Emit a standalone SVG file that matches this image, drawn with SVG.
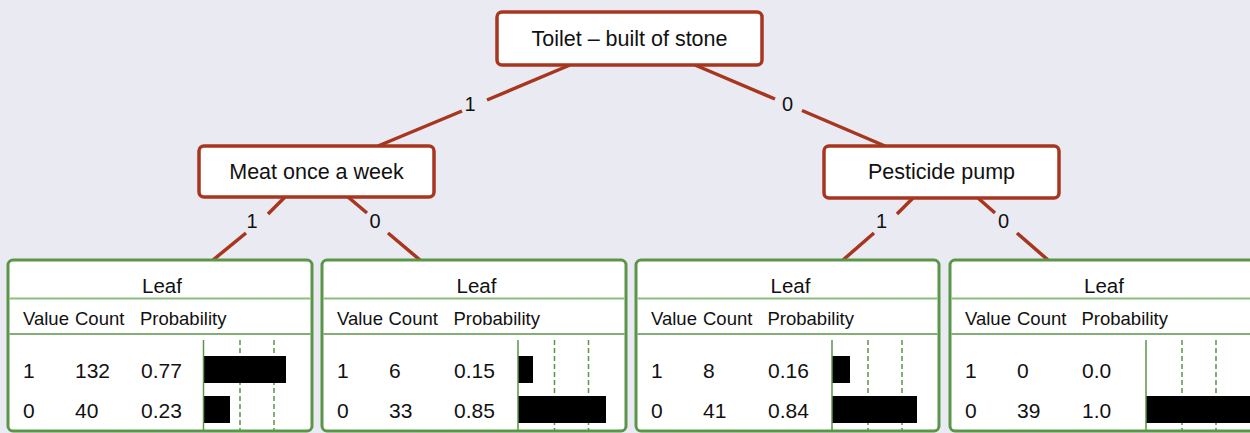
<svg xmlns="http://www.w3.org/2000/svg" width="1250" height="433" viewBox="0 0 1250 433">
<style>
text{font-family:"Liberation Sans",Arial,sans-serif;fill:#111}
.node{fill:#fff;stroke:#a8361f;stroke-width:3.5}
.nt{font-size:21.5px;text-anchor:middle}
.edge{fill:none;stroke:#a8361f;stroke-width:3.5}
.el{font-size:20px;text-anchor:middle}
.leaf{fill:#fff;stroke:#5a9548;stroke-width:3}
.sep1{stroke:#8dbd7e;stroke-width:2}
.sep2{stroke:#5a9548;stroke-width:1.5}
.axis{stroke:#5a9548;stroke-width:1.5}
.grid{stroke:#5a9548;stroke-width:1.5;stroke-dasharray:5 3}
.lt{font-size:20.5px;text-anchor:middle}
.hd{font-size:18.5px}
.rv{font-size:21px}
.bar{fill:#000}
</style>
<rect width="1250" height="433" fill="#eaeaf2"/>
<g id="connectors">
<path class="edge" d="M570 65 L487 100 M462 111 L378 146"/>
<text class="el" x="470" y="111">1</text>
<path class="edge" d="M695 65 L775 99 M802 110.5 L885 146"/>
<text class="el" x="787.5" y="111">0</text>
<path class="edge" d="M285 197 L268 214 M246 233 L213 260"/>
<text class="el" x="252" y="228">1</text>
<path class="edge" d="M348 197 L367 213 M388 233 L420 260"/>
<text class="el" x="375" y="228">0</text>
<path class="edge" d="M913 198 L897 214 M874 233 L843 260"/>
<text class="el" x="881.5" y="228">1</text>
<path class="edge" d="M978 198 L995 213 M1017 233 L1048 260"/>
<text class="el" x="1003.5" y="228">0</text>
</g>
<g id="root">
<rect class="node" x="497" y="12" width="265" height="53" rx="5"/>
<text class="nt" x="629.5" y="45.5">Toilet – built of stone</text>
</g>
<g id="meat">
<rect class="node" x="199" y="146" width="235" height="51" rx="5"/>
<text class="nt" x="316.5" y="178.5">Meat once a week</text>
</g>
<g id="pesticide">
<rect class="node" x="824" y="146" width="235" height="52" rx="5"/>
<text class="nt" x="941.5" y="178.5">Pesticide pump</text>
</g>
<g id="leaf1">
<rect class="leaf" x="8" y="260" width="304" height="171" rx="5"/>
<line class="sep1" x1="9.5" y1="298.5" x2="310.5" y2="298.5"/>
<line class="sep2" x1="9.5" y1="334" x2="310.5" y2="334"/>
<text class="lt" x="162" y="293">Leaf</text>
<text class="hd" x="23" y="325">Value</text><text class="hd" x="75" y="325">Count</text><text class="hd" x="140" y="325">Probability</text>
<text class="rv" x="23" y="378">1</text><text class="rv" x="75" y="378">132</text><text class="rv" x="141" y="378">0.77</text>
<text class="rv" x="23" y="418">0</text><text class="rv" x="75" y="418">40</text><text class="rv" x="141" y="418">0.23</text>
<line class="grid" x1="240" y1="340" x2="240" y2="430"/>
<line class="grid" x1="274" y1="340" x2="274" y2="430"/>
<rect class="bar" x="204" y="356" width="82" height="27"/>
<rect class="bar" x="204" y="396" width="26" height="27"/>
<line class="axis" x1="203.5" y1="340" x2="203.5" y2="430"/>
</g>
<g id="leaf2">
<rect class="leaf" x="322" y="260" width="304" height="171" rx="5"/>
<line class="sep1" x1="323.5" y1="298.5" x2="624.5" y2="298.5"/>
<line class="sep2" x1="323.5" y1="334" x2="624.5" y2="334"/>
<text class="lt" x="476.5" y="293">Leaf</text>
<text class="hd" x="337" y="325">Value</text><text class="hd" x="388.5" y="325">Count</text><text class="hd" x="453.5" y="325">Probability</text>
<text class="rv" x="337" y="378">1</text><text class="rv" x="389" y="378">6</text><text class="rv" x="454" y="378">0.15</text>
<text class="rv" x="337" y="418">0</text><text class="rv" x="389" y="418">33</text><text class="rv" x="454" y="418">0.85</text>
<line class="grid" x1="554.5" y1="340" x2="554.5" y2="430"/>
<line class="grid" x1="588.5" y1="340" x2="588.5" y2="430"/>
<rect class="bar" x="518" y="356" width="15" height="27"/>
<rect class="bar" x="518" y="396" width="88" height="27"/>
<line class="axis" x1="518" y1="340" x2="518" y2="430"/>
</g>
<g id="leaf3">
<rect class="leaf" x="636" y="260" width="303" height="171" rx="5"/>
<line class="sep1" x1="637.5" y1="298.5" x2="937.5" y2="298.5"/>
<line class="sep2" x1="637.5" y1="334" x2="937.5" y2="334"/>
<text class="lt" x="790.5" y="293">Leaf</text>
<text class="hd" x="651" y="325">Value</text><text class="hd" x="703" y="325">Count</text><text class="hd" x="767.5" y="325">Probability</text>
<text class="rv" x="651" y="378">1</text><text class="rv" x="703" y="378">8</text><text class="rv" x="768" y="378">0.16</text>
<text class="rv" x="651" y="418">0</text><text class="rv" x="703" y="418">41</text><text class="rv" x="768" y="418">0.84</text>
<line class="grid" x1="868" y1="340" x2="868" y2="430"/>
<line class="grid" x1="902" y1="340" x2="902" y2="430"/>
<rect class="bar" x="832" y="356" width="18" height="27"/>
<rect class="bar" x="832" y="396" width="85" height="27"/>
<line class="axis" x1="832" y1="340" x2="832" y2="430"/>
</g>
<g id="leaf4">
<rect class="leaf" x="950" y="260" width="304" height="171" rx="5"/>
<line class="sep1" x1="951.5" y1="298.5" x2="1252" y2="298.5"/>
<line class="sep2" x1="951.5" y1="334" x2="1252" y2="334"/>
<text class="lt" x="1104" y="293">Leaf</text>
<text class="hd" x="965" y="325">Value</text><text class="hd" x="1017" y="325">Count</text><text class="hd" x="1081.5" y="325">Probability</text>
<text class="rv" x="965" y="378">1</text><text class="rv" x="1017" y="378">0</text><text class="rv" x="1082" y="378">0.0</text>
<text class="rv" x="965" y="418">0</text><text class="rv" x="1017" y="418">39</text><text class="rv" x="1082" y="418">1.0</text>
<line class="grid" x1="1182" y1="340" x2="1182" y2="430"/>
<line class="grid" x1="1216" y1="340" x2="1216" y2="430"/>
<rect class="bar" x="1146" y="396" width="110" height="27"/>
<line class="axis" x1="1146" y1="340" x2="1146" y2="430"/>
</g>
</svg>
